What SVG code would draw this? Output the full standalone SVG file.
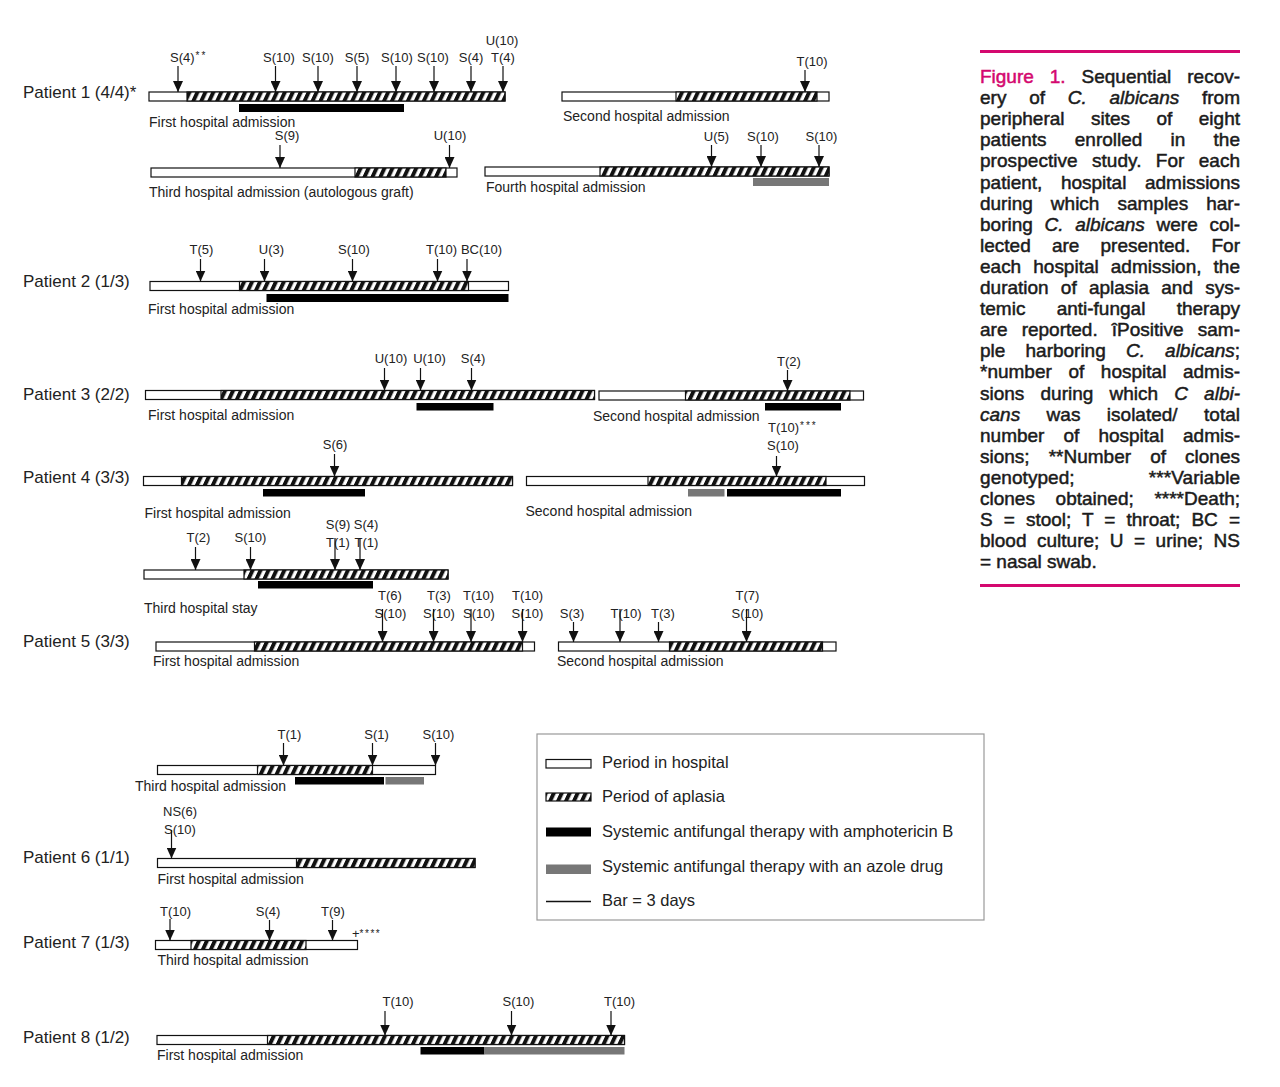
<svg xmlns="http://www.w3.org/2000/svg" width="1280" height="1087" viewBox="0 0 1280 1087">
<defs>
<pattern id="hatch" patternUnits="userSpaceOnUse" width="7.2" height="10" patternTransform="rotate(25)">
<rect width="7.2" height="10" fill="#fff"/>
<rect width="3.9" height="10" fill="#111"/>
</pattern>
<marker id="ah" markerUnits="userSpaceOnUse" markerWidth="11" markerHeight="10" refX="11" refY="5" orient="auto" viewBox="0 0 11 10">
<path d="M0,0 L11,5 L0,10 z" fill="#111"/>
</marker>
<style>
.bar{fill:#fff;stroke:#111;stroke-width:1.2}
.hat{fill:url(#hatch);stroke:#111;stroke-width:1.2}
.amb{fill:#000}
.azo{fill:#777}
text{font-family:"Liberation Sans",Arial,sans-serif;fill:#222}
.lbl{font-size:13px;text-anchor:middle}
.lbs{font-size:13px}
.adm{font-size:14px}
.pat{font-size:17px}
.leg{font-size:16.5px}
.sup{font-size:10px}
#connectors line{stroke:#111;stroke-width:1.2;marker-end:url(#ah)}
.cap{font-size:19px;fill:#1b1b1b;stroke:#1b1b1b;stroke-width:0.5}
.fig{fill:#d4086f;stroke:#d4086f}
.it{font-style:italic}
.rule{fill:#d4086f}
</style>
</defs>
<rect width="1280" height="1087" fill="#fff"/>

<!-- Patient 1 -->
<g id="patient1">
<text class="pat" x="23" y="98">Patient 1 (4/4)*</text>
<g id="p1-first">
<rect class="bar" x="149" y="92" width="356" height="9"/>
<rect class="hat" x="187" y="92" width="318" height="9"/>
<rect class="amb" x="239" y="104" width="165" height="8"/>
<text class="adm" x="149" y="127">First hospital admission</text>
<text class="lbs" x="170" y="62">S(4)<tspan class="sup" dx="1" dy="-3" letter-spacing="2">**</tspan></text>
<text class="lbl" x="279" y="62">S(10)</text>
<text class="lbl" x="318" y="62">S(10)</text>
<text class="lbl" x="357" y="62">S(5)</text>
<text class="lbl" x="397" y="62">S(10)</text>
<text class="lbl" x="433" y="62">S(10)</text>
<text class="lbl" x="471" y="62">S(4)</text>
<text class="lbl" x="503" y="62">T(4)</text>
<text class="lbl" x="502" y="45">U(10)</text>
</g>
<g id="p1-second">
<rect class="bar" x="562" y="92" width="267" height="9"/>
<rect class="hat" x="676" y="92" width="141" height="9"/>
<text class="adm" x="563" y="121">Second hospital admission</text>
<text class="lbl" x="812" y="66">T(10)</text>
</g>
<g id="p1-third">
<rect class="bar" x="151" y="168" width="306" height="9"/>
<rect class="hat" x="355" y="168" width="91" height="9"/>
<text class="adm" x="149" y="197">Third hospital admission (autologous graft)</text>
<text class="lbl" x="287" y="140">S(9)</text>
<text class="lbl" x="450" y="140">U(10)</text>
</g>
<g id="p1-fourth">
<rect class="bar" x="485" y="167" width="344" height="9"/>
<rect class="hat" x="600" y="167" width="229" height="9"/>
<rect class="azo" x="753" y="178" width="76" height="8"/>
<text class="adm" x="486" y="192">Fourth hospital admission</text>
<text class="lbl" x="716.5" y="141">U(5)</text>
<text class="lbl" x="763" y="141">S(10)</text>
<text class="lbl" x="821.5" y="141">S(10)</text>
</g>
</g>

<!-- Patient 2 -->
<g id="patient2">
<text class="pat" x="23" y="287">Patient 2 (1/3)</text>
<rect class="bar" x="150" y="281.5" width="358.5" height="9"/>
<rect class="hat" x="239.5" y="281.5" width="229" height="9"/>
<rect class="amb" x="266.5" y="294" width="242" height="8"/>
<text class="adm" x="148" y="314">First hospital admission</text>
<text class="lbl" x="201.5" y="254">T(5)</text>
<text class="lbl" x="271.5" y="254">U(3)</text>
<text class="lbl" x="354" y="254">S(10)</text>
<text class="lbl" x="441.5" y="254">T(10)</text>
<text class="lbl" x="481.5" y="254">BC(10)</text>
</g>

<!-- Patient 3 -->
<g id="patient3">
<text class="pat" x="23" y="400">Patient 3 (2/2)</text>
<g id="p3-first">
<rect class="bar" x="145.5" y="390.5" width="449" height="9"/>
<rect class="hat" x="221" y="390.5" width="373.5" height="9"/>
<rect class="amb" x="416.5" y="403" width="77" height="7.5"/>
<text class="adm" x="148" y="420">First hospital admission</text>
<text class="lbl" x="391" y="363">U(10)</text>
<text class="lbl" x="429.5" y="363">U(10)</text>
<text class="lbl" x="473" y="363">S(4)</text>
</g>
<g id="p3-second">
<rect class="bar" x="599" y="391" width="264.5" height="9"/>
<rect class="hat" x="685.5" y="391" width="164.5" height="9"/>
<rect class="amb" x="765" y="403" width="76" height="7.5"/>
<text class="adm" x="593" y="421">Second hospital admission</text>
<text class="lbl" x="789" y="366">T(2)</text>
</g>
</g>

<!-- Patient 4 -->
<g id="patient4">
<text class="pat" x="23" y="483">Patient 4 (3/3)</text>
<g id="p4-first">
<rect class="bar" x="143.5" y="476.5" width="369" height="9"/>
<rect class="hat" x="181.5" y="476.5" width="331" height="9"/>
<rect class="amb" x="263" y="489" width="102" height="7.5"/>
<text class="adm" x="144.5" y="518">First hospital admission</text>
<text class="lbl" x="335" y="449">S(6)</text>
</g>
<g id="p4-second">
<rect class="bar" x="526.5" y="476.5" width="338" height="9"/>
<rect class="hat" x="648" y="476.5" width="178" height="9"/>
<rect class="azo" x="688" y="489" width="36.5" height="7.5"/>
<rect class="amb" x="727" y="489" width="114" height="7.5"/>
<text class="adm" x="525.5" y="516">Second hospital admission</text>
<text class="lbs" x="768" y="432">T(10)<tspan class="sup" dx="1" dy="-3" letter-spacing="2">***</tspan></text>
<text class="lbl" x="783" y="450">S(10)</text>
</g>
<g id="p4-third">
<rect class="bar" x="144" y="570" width="304" height="9"/>
<rect class="hat" x="244" y="570" width="204" height="9"/>
<rect class="amb" x="258" y="581" width="115" height="7.5"/>
<text class="adm" x="144" y="613">Third hospital stay</text>
<text class="lbl" x="198.5" y="542">T(2)</text>
<text class="lbl" x="250.5" y="542">S(10)</text>
<text class="lbl" x="338" y="529">S(9)</text>
<text class="lbl" x="338" y="547">T(1)</text>
<text class="lbl" x="366" y="529">S(4)</text>
<text class="lbl" x="366.5" y="547">T(1)</text>
</g>
</g>

<!-- Patient 5 -->
<g id="patient5">
<text class="pat" x="23" y="647">Patient 5 (3/3)</text>
<g id="p5-first">
<rect class="bar" x="156" y="642" width="378.5" height="9"/>
<rect class="hat" x="254.5" y="642" width="268" height="9"/>
<text class="adm" x="153" y="666">First hospital admission</text>
<text class="lbl" x="390" y="600">T(6)</text>
<text class="lbl" x="390.5" y="618">S(10)</text>
<text class="lbl" x="439" y="600">T(3)</text>
<text class="lbl" x="439" y="618">S(10)</text>
<text class="lbl" x="478.5" y="600">T(10)</text>
<text class="lbl" x="479" y="618">S(10)</text>
<text class="lbl" x="527.5" y="600">T(10)</text>
<text class="lbl" x="527.5" y="618">S(10)</text>
</g>
<g id="p5-second">
<rect class="bar" x="558.5" y="642" width="277.5" height="9"/>
<rect class="hat" x="669.5" y="642" width="153" height="9"/>
<text class="adm" x="557" y="666">Second hospital admission</text>
<text class="lbl" x="572" y="618">S(3)</text>
<text class="lbl" x="626" y="618">T(10)</text>
<text class="lbl" x="663" y="618">T(3)</text>
<text class="lbl" x="747.5" y="600">T(7)</text>
<text class="lbl" x="747.5" y="618">S(10)</text>
</g>
<g id="p5-third">
<rect class="bar" x="157.5" y="765.5" width="278" height="9"/>
<rect class="hat" x="257.5" y="765.5" width="115" height="9"/>
<rect class="amb" x="295" y="777" width="89" height="7.5"/>
<rect class="azo" x="385.5" y="777" width="38.5" height="7.5"/>
<text class="adm" x="135" y="791">Third hospital admission</text>
<text class="lbl" x="289.5" y="739">T(1)</text>
<text class="lbl" x="376.5" y="739">S(1)</text>
<text class="lbl" x="438.5" y="739">S(10)</text>
</g>
</g>

<!-- Patient 6 -->
<g id="patient6">
<text class="pat" x="23" y="863">Patient 6 (1/1)</text>
<rect class="bar" x="157.5" y="858.5" width="317.5" height="9"/>
<rect class="hat" x="296.5" y="858.5" width="178.5" height="9"/>
<text class="adm" x="157.5" y="884">First hospital admission</text>
<text class="lbl" x="180" y="816">NS(6)</text>
<text class="lbl" x="180" y="834">S(10)</text>
</g>

<!-- Patient 7 -->
<g id="patient7">
<text class="pat" x="23" y="948">Patient 7 (1/3)</text>
<rect class="bar" x="155.5" y="940.5" width="202" height="9"/>
<rect class="hat" x="191" y="940.5" width="115" height="9"/>
<text class="adm" x="157.5" y="965">Third hospital admission</text>
<text class="lbl" x="175.5" y="916">T(10)</text>
<text class="lbl" x="268" y="916">S(4)</text>
<text class="lbl" x="333" y="916">T(9)</text>
<text class="lbs" x="352" y="938" font-size="12px">+<tspan class="sup" letter-spacing="1.5" dy="-1">****</tspan></text>
</g>

<!-- Patient 8 -->
<g id="patient8">
<text class="pat" x="23" y="1043">Patient 8 (1/2)</text>
<rect class="bar" x="157" y="1035.5" width="467.5" height="9"/>
<rect class="hat" x="267.5" y="1035.5" width="357" height="9"/>
<rect class="amb" x="420.5" y="1047" width="64" height="7.5"/>
<rect class="azo" x="484.5" y="1047" width="140" height="7.5"/>
<text class="adm" x="157" y="1060">First hospital admission</text>
<text class="lbl" x="398" y="1006">T(10)</text>
<text class="lbl" x="518.5" y="1006">S(10)</text>
<text class="lbl" x="619.5" y="1006">T(10)</text>
</g>

<!-- Connectors (sample arrows) -->
<g id="connectors">
<line x1="178" y1="66" x2="178" y2="92"/>
<line x1="275.5" y1="66" x2="275.5" y2="92"/>
<line x1="318" y1="66" x2="318" y2="92"/>
<line x1="357" y1="66" x2="357" y2="92"/>
<line x1="396" y1="66" x2="396" y2="92"/>
<line x1="434" y1="66" x2="434" y2="92"/>
<line x1="471" y1="66" x2="471" y2="92"/>
<line x1="503" y1="66" x2="503" y2="92"/>
<line x1="805" y1="70" x2="805" y2="92"/>
<line x1="280" y1="145" x2="280" y2="168"/>
<line x1="449.5" y1="145" x2="449.5" y2="168"/>
<line x1="711.5" y1="145" x2="711.5" y2="167"/>
<line x1="761" y1="145" x2="761" y2="167"/>
<line x1="819" y1="145" x2="819" y2="167"/>
<line x1="200.5" y1="259" x2="200.5" y2="281.5"/>
<line x1="264.5" y1="259" x2="264.5" y2="281.5"/>
<line x1="352.5" y1="259" x2="352.5" y2="281.5"/>
<line x1="437.5" y1="259" x2="437.5" y2="281.5"/>
<line x1="467" y1="259" x2="467" y2="281.5"/>
<line x1="384.5" y1="368" x2="384.5" y2="390.5"/>
<line x1="420.5" y1="368" x2="420.5" y2="390.5"/>
<line x1="471.5" y1="368" x2="471.5" y2="390.5"/>
<line x1="787.5" y1="370" x2="787.5" y2="391"/>
<line x1="334.5" y1="454" x2="334.5" y2="476.5"/>
<line x1="776.5" y1="456" x2="776.5" y2="476.5"/>
<line x1="195.5" y1="547" x2="195.5" y2="570"/>
<line x1="250.5" y1="547" x2="250.5" y2="570"/>
<line x1="335" y1="538" x2="335" y2="570"/>
<line x1="360" y1="538" x2="360" y2="570"/>
<line x1="382.5" y1="609" x2="382.5" y2="642"/>
<line x1="433.5" y1="609" x2="433.5" y2="642"/>
<line x1="471" y1="609" x2="471" y2="642"/>
<line x1="522.5" y1="609" x2="522.5" y2="642"/>
<line x1="573.5" y1="622" x2="573.5" y2="642"/>
<line x1="620" y1="609" x2="620" y2="642"/>
<line x1="658.5" y1="622" x2="658.5" y2="642"/>
<line x1="746.5" y1="609" x2="746.5" y2="642"/>
<line x1="283.5" y1="743" x2="283.5" y2="765.5"/>
<line x1="372.5" y1="743" x2="372.5" y2="765.5"/>
<line x1="435.5" y1="743" x2="435.5" y2="765.5"/>
<line x1="171.5" y1="830" x2="171.5" y2="858.5"/>
<line x1="170" y1="919" x2="170" y2="940.5"/>
<line x1="269.5" y1="920" x2="269.5" y2="940.5"/>
<line x1="332.5" y1="920" x2="332.5" y2="940.5"/>
<line x1="385" y1="1011" x2="385" y2="1035.5"/>
<line x1="511.5" y1="1011" x2="511.5" y2="1035.5"/>
<line x1="611" y1="1011" x2="611" y2="1035.5"/>
</g>

<!-- Legend -->
<g id="legend">
<rect x="537" y="734" width="447" height="186" fill="#fff" stroke="#999" stroke-width="1.2"/>
<rect class="bar" x="546" y="759.5" width="45" height="8.5"/>
<text class="leg" x="602" y="768">Period in hospital</text>
<rect class="hat" x="546" y="793" width="45" height="8"/>
<text class="leg" x="602" y="802">Period of aplasia</text>
<rect class="amb" x="546" y="827.5" width="45" height="9"/>
<text class="leg" x="602" y="837">Systemic antifungal therapy with amphotericin B</text>
<rect class="azo" x="546" y="864.5" width="45" height="9.5"/>
<text class="leg" x="602" y="872">Systemic antifungal therapy with an azole drug</text>
<line x1="546" y1="901.5" x2="591" y2="901.5" stroke="#111" stroke-width="1.3"/>
<text class="leg" x="602" y="906">Bar = 3 days</text>
</g>

<!-- Caption -->
<g id="caption">
<rect class="rule" x="980" y="50" width="260" height="3"/>
<text class="cap" x="980" y="83" word-spacing="10.7" textLength="260" lengthAdjust="spacing"><tspan class="fig">Figure 1.</tspan> Sequential recov-</text>
<text class="cap" x="980" y="104.1" word-spacing="17.5" textLength="260" lengthAdjust="spacing">ery of <tspan class="it">C. albicans</tspan> from</text>
<text class="cap" x="980" y="125.2" word-spacing="21.2" textLength="260" lengthAdjust="spacing">peripheral sites of eight</text>
<text class="cap" x="980" y="146.3" word-spacing="22.9" textLength="260" lengthAdjust="spacing">patients enrolled in the</text>
<text class="cap" x="980" y="167.4" word-spacing="8.9" textLength="260" lengthAdjust="spacing">prospective study. For each</text>
<text class="cap" x="980" y="188.5" word-spacing="13.3" textLength="260" lengthAdjust="spacing">patient, hospital admissions</text>
<text class="cap" x="980" y="209.6" word-spacing="12.8" textLength="260" lengthAdjust="spacing">during which samples har-</text>
<text class="cap" x="980" y="230.7" word-spacing="6.4" textLength="260" lengthAdjust="spacing">boring <tspan class="it">C. albicans</tspan> were col-</text>
<text class="cap" x="980" y="251.8" word-spacing="15.9" textLength="260" lengthAdjust="spacing">lected are presented. For</text>
<text class="cap" x="980" y="272.9" word-spacing="6.8" textLength="260" lengthAdjust="spacing">each hospital admission, the</text>
<text class="cap" x="980" y="294" word-spacing="6.9" textLength="260" lengthAdjust="spacing">duration of aplasia and sys-</text>
<text class="cap" x="980" y="315.1" word-spacing="26" textLength="260" lengthAdjust="spacing">temic anti-fungal therapy</text>
<text class="cap" x="980" y="336.2" word-spacing="8.9" textLength="260" lengthAdjust="spacing">are reported. îPositive sam-</text>
<text class="cap" x="980" y="357.3" word-spacing="14.9" textLength="260" lengthAdjust="spacing">ple harboring <tspan class="it">C. albicans</tspan>;</text>
<text class="cap" x="980" y="378.4" word-spacing="11.3" textLength="260" lengthAdjust="spacing">*number of hospital admis-</text>
<text class="cap" x="980" y="399.5" word-spacing="10.9" textLength="260" lengthAdjust="spacing">sions during which <tspan class="it">C albi-</tspan></text>
<text class="cap" x="980" y="420.6" word-spacing="21.2" textLength="260" lengthAdjust="spacing"><tspan class="it">cans</tspan> was isolated/ total</text>
<text class="cap" x="980" y="441.7" word-spacing="13.8" textLength="260" lengthAdjust="spacing">number of hospital admis-</text>
<text class="cap" x="980" y="462.8" word-spacing="13.8" textLength="260" lengthAdjust="spacing">sions; **Number of clones</text>
<text class="cap" x="980" y="483.9" word-spacing="68.8" textLength="260" lengthAdjust="spacing">genotyped; ***Variable</text>
<text class="cap" x="980" y="505" word-spacing="15.4" textLength="260" lengthAdjust="spacing">clones obtained; ****Death;</text>
<text class="cap" x="980" y="526.1" word-spacing="5.8" textLength="260" lengthAdjust="spacing">S = stool; T = throat; BC =</text>
<text class="cap" x="980" y="547.2" word-spacing="5.2" textLength="260" lengthAdjust="spacing">blood culture; U = urine; NS</text>
<text class="cap" x="980" y="568.3">= nasal swab.</text>
<rect class="rule" x="980" y="584" width="260" height="3"/>
</g>
</svg>
